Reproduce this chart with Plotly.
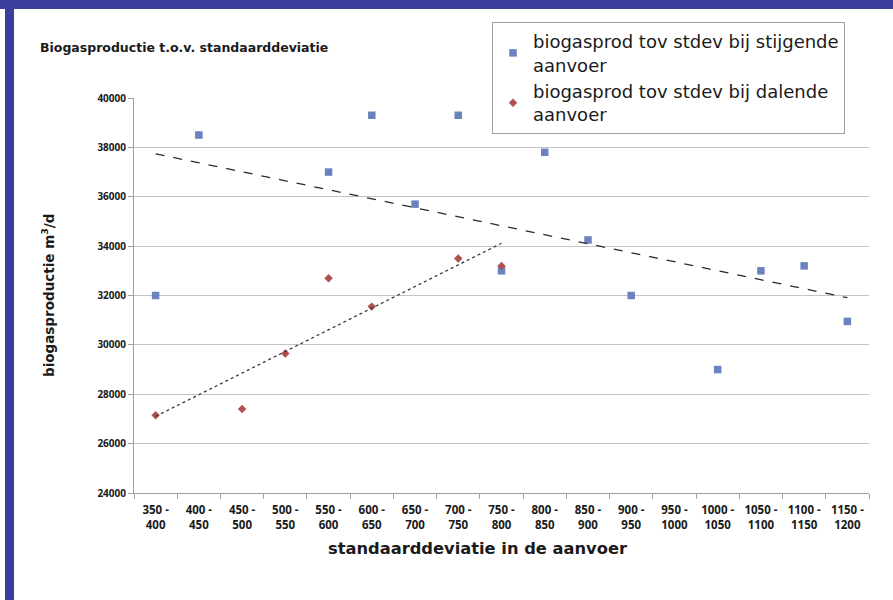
import numpy as np
import plotly.graph_objects as go

categories = ["350 - 400", "400 - 450", "450 - 500", "500 - 550", "550 - 600",
              "600 - 650", "650 - 700", "700 - 750", "750 - 800", "800 - 850",
              "850 - 900", "900 - 950", "950 - 1000", "1000 - 1050", "1050 - 1100",
              "1100 - 1150", "1150 - 1200"]
tick_labels = [c.replace(" - ", " -<br>") for c in categories]

# biogasproductie bij stijgende aanvoer (m3/d)
stijgend = [32000, 38500, None, None, 37000, 39300, 35700, 39300, 33000,
            37800, 34250, 32000, None, 29000, 33000, 33200, 30950]
# biogasproductie bij dalende aanvoer (m3/d)
dalend = [27150, None, 27400, 29650, 32700, 31550, None, 33500, 33200,
          None, None, None, None, None, None, None, None]

name_up = "biogasprod tov stdev bij stijgende<br>aanvoer"
name_down = "biogasprod tov stdev bij dalende<br>aanvoer"
title_text = "Biogasproductie t.o.v. standaarddeviatie"
y_title = "biogasproductie m<sup>3</sup>/d"
x_title = "standaarddeviatie in de aanvoer"

y_ticks = list(range(24000, 40001, 2000))
y_tick_text = [str(v) for v in y_ticks]


def trend(values):
    idx = [i for i, v in enumerate(values) if v is not None]
    vals = [values[i] for i in idx]
    slope, icpt = np.polyfit(idx, vals, 1)
    x0, x1 = idx[0], idx[-1]
    return [categories[x0], categories[x1]], [icpt + slope * x0, icpt + slope * x1]


BLUE = "#6a82bd"
RED = "#b0504c"
FONT = "DejaVu Sans"
TFONT = "Open Sans"
TXT = "#1a1a1a"

fig = go.Figure()
fig.add_trace(go.Scatter(x=categories, y=stijgend, mode="markers", name=name_up,
                         marker=dict(symbol="square", size=7.5, color=BLUE)))
fig.add_trace(go.Scatter(x=categories, y=dalend, mode="markers", name=name_down,
                         marker=dict(symbol="diamond", size=6.5, color=RED)))

tx, ty = trend(stijgend)
fig.add_trace(go.Scatter(x=tx, y=ty, mode="lines", showlegend=False, hoverinfo="skip",
                         line=dict(color="#2a2a2a", width=1.3, dash="dash")))
tx, ty = trend(dalend)
fig.add_trace(go.Scatter(x=tx, y=ty, mode="lines", showlegend=False, hoverinfo="skip",
                         line=dict(color="#3a3a3a", width=1.3, dash="dot")))

L, R, T, B = 134, 24, 98, 107
W, H = 893, 600
pw, ph = W - L - R, H - T - B


def px_x(p):
    return (p - L) / pw


def px_y(p):
    return (H - B - p) / ph


shapes = [
    # blue frame (left and top)
    dict(type="rect", xref="paper", yref="paper", x0=px_x(5), x1=px_x(14),
         y0=px_y(600), y1=px_y(0), fillcolor="#3a3f9c", line=dict(width=0), layer="above"),
    dict(type="rect", xref="paper", yref="paper", x0=px_x(0), x1=px_x(893),
         y0=px_y(9), y1=px_y(0), fillcolor="#3a3f9c", line=dict(width=0), layer="above"),
]

fig.update_layout(
    width=W, height=H,
    margin=dict(l=L, r=R, t=T, b=B),
    paper_bgcolor="white", plot_bgcolor="white",
    font=dict(family=FONT, color=TXT),
    title=dict(text=title_text, x=40 / W, xanchor="left", y=1 - 48 / H, yanchor="middle",
               font=dict(family=FONT, size=12.5, weight="bold", color=TXT)),
    showlegend=True,
    legend=dict(x=px_x(492), xanchor="left", y=px_y(22), yanchor="top",
                bordercolor="#a0a0a0", borderwidth=1, bgcolor="white",
                font=dict(family=FONT, size=18, color=TXT),
                itemwidth=30, tracegroupgap=0),
    shapes=shapes,
    annotations=[
        dict(text=x_title, xref="paper", yref="paper", x=px_x(477), y=px_y(548),
             xanchor="center", yanchor="middle", showarrow=False,
             font=dict(family=FONT, size=16.3, weight="bold", color=TXT)),
        dict(text=y_title, xref="paper", yref="paper", x=px_x(48), y=px_y(296),
             xanchor="center", yanchor="middle", showarrow=False, textangle=-90,
             font=dict(family=FONT, size=13.5, weight="bold", color=TXT)),
    ],
)

fig.update_xaxes(type="category", categoryorder="array", categoryarray=categories,
                 tickmode="array", tickvals=categories, ticktext=tick_labels,
                 tickson="boundaries", ticks="outside", ticklen=5, tickcolor="#a0a0a0",
                 ticklabelstandoff=6,
                 showline=True, linecolor="#a0a0a0", linewidth=1,
                 showgrid=False, zeroline=False,
                 tickfont=dict(family=TFONT, size=11.5, weight="bold", color=TXT),
                 range=[-0.5, len(categories) - 0.5])
fig.update_yaxes(range=[24000, 40000], tickmode="array", tickvals=y_ticks,
                 ticktext=y_tick_text,
                 ticks="outside", ticklen=5, tickcolor="#a0a0a0",
                 showline=True, linecolor="#a0a0a0", linewidth=1,
                 showgrid=True, gridcolor="#c4c4c4", gridwidth=1, zeroline=False,
                 tickfont=dict(family=TFONT, size=10, weight="bold", color=TXT))

fig.write_html("out.html", config={"displayModeBar": False},
               post_script="document.body.style.margin='0px';")
